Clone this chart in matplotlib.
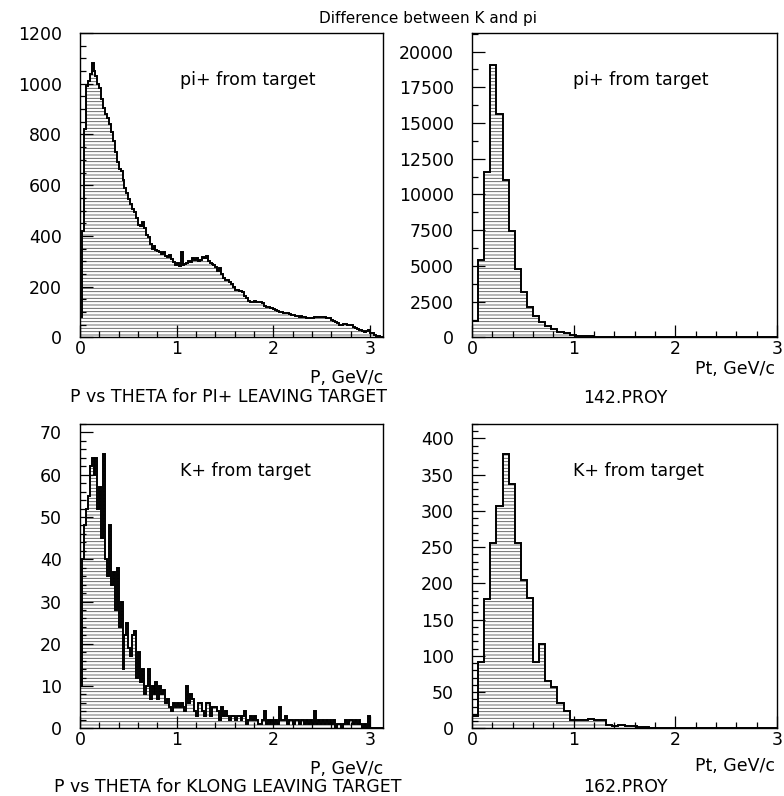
import numpy as np
import matplotlib
matplotlib.use("Agg")
import matplotlib.pyplot as plt
from matplotlib.ticker import MultipleLocator, FormatStrFormatter

# ---------------- data ----------------
# pi+ momentum P (GeV/c), bins of 0.02 starting at 0
pi_p_bin_width = 0.02
pi_p_counts = [
    80, 420, 820, 990, 1010, 1040, 1080, 1050, 1030, 1000,
    985, 940, 905, 880, 865, 840, 810, 775, 730, 690,
    665, 655, 620, 590, 570, 545, 525, 505, 495, 470,
    445, 440, 455, 430, 405, 395, 370, 350, 360, 345,
    340, 335, 330, 336, 322, 318, 326, 310, 298, 285,
    292, 280, 338, 285, 290, 292, 300, 298, 312, 305,
    312, 300, 305, 315, 312, 320, 300, 292, 290, 285,
    279, 262, 272, 250, 233, 228, 226, 220, 212, 200,
    187, 185, 184, 182, 180, 165, 154, 145, 141, 140,
    142, 141, 138, 141, 135, 125, 121, 118, 115, 116,
    110, 108, 104, 101, 102, 98, 95, 96, 92, 90,
    88, 86, 84, 82, 83, 80, 82, 78, 76, 75,
    78, 80, 82, 80, 79, 81, 79, 76, 77, 75,
    70, 66, 62, 56, 50, 49, 52, 52, 50, 48,
    49, 42, 37, 35, 31, 29, 26, 22, 24, 29,
    17, 16, 10, 7, 4, 2, 0,
]

# K+ momentum P (GeV/c), bins of 0.02 starting at 0
k_p_bin_width = 0.02
k_p_counts = [
    10, 40, 48, 52, 55, 62, 64, 60, 64, 52,
    57, 45, 65, 40, 36, 48, 34, 37, 28, 38,
    24, 30, 14, 22, 25, 19, 17, 22, 23, 12,
    18, 11, 14, 8, 10, 14, 7, 10, 8, 11,
    7, 10, 8, 9, 6, 7, 5, 4, 6, 5,
    6, 5, 6, 5, 4, 10, 6, 8, 7, 4,
    3, 6, 6, 4, 3, 6, 6, 3, 5, 5,
    5, 4, 2, 5, 3, 4, 3, 2, 3, 3,
    2, 3, 3, 2, 3, 4, 1, 2, 3, 2,
    3, 2, 1, 1, 2, 4, 1, 2, 1, 2,
    1, 2, 1, 5, 2, 2, 3, 1, 2, 2,
    1, 2, 2, 1, 2, 2, 1, 2, 1, 2,
    1, 4, 1, 2, 1, 2, 1, 2, 1, 2,
    1, 2, 0, 1, 1, 0, 1, 2, 1, 2,
    2, 1, 2, 1, 2, 1, 0, 1, 0, 3,
    0, 0, 0, 0, 0, 0, 0,
]

# pi+ transverse momentum Pt (GeV/c), bins of 0.06 starting at 0
pi_pt_bin_width = 0.06
pi_pt_counts = [
    1150, 5400, 11600, 19050, 15650, 11000, 7450, 4800, 3150, 2100,
    1500, 1080, 780, 560, 400, 280, 190, 130, 95, 70,
    50, 35, 25, 12, 0, 0, 0, 0, 0, 0,
    0, 0, 0, 0, 0, 0, 0, 0, 0, 0,
    0, 0, 0, 0, 0, 0, 0, 0, 0, 0,
]

# K+ transverse momentum Pt (GeV/c), bins of 0.06 starting at 0
k_pt_bin_width = 0.06
k_pt_counts = [
    17, 91, 178, 256, 307, 378, 337, 256, 204, 180,
    91, 116, 65, 57, 35, 24, 12, 11, 11, 13,
    11, 12, 5, 3, 4, 3, 3, 2, 2, 1,
    1, 1, 1, 0, 0, 0, 0, 0, 0, 0,
    0, 0, 0, 0, 0, 0, 0, 0, 0, 0,
]

x_tick_labels = ["0", "1", "2", "3"]
figure_title = "Difference between K and pi"

# ---------------- figure ----------------
W, H = 784, 796
plt.rcParams["font.family"] = ["DejaVu Sans"]
plt.rcParams["hatch.linewidth"] = 0.6
fig = plt.figure(figsize=(W / 100, H / 100), dpi=100)
fig.patch.set_facecolor("white")

FS = 12.5
HATCH_COLOR = "#555555"


def px_rect(left, top, right, bottom):
    return [left / W, 1 - bottom / H, (right - left) / W, (bottom - top) / H]


def ftext(x, y, s, size=FS, **kw):
    fig.text(x / W, 1 - y / H, s, fontsize=size, **kw)


def panel(rect, counts, width, xmax, ymax, ymaj, ymin, label):
    ax = fig.add_axes(rect)
    edges = np.arange(len(counts) + 1) * width
    ax.stairs(counts, edges, fill=True, facecolor="white",
              edgecolor=HATCH_COLOR, hatch="-----", linewidth=0)
    ax.stairs(counts, edges, fill=False, edgecolor="black", linewidth=1.4)
    ax.set_xlim(0, xmax)
    ax.set_ylim(0, ymax)
    ax.set_xticks([0, 1, 2, 3])
    ax.set_xticklabels(x_tick_labels)
    ax.xaxis.set_minor_locator(MultipleLocator(0.2))
    ax.yaxis.set_major_locator(MultipleLocator(ymaj))
    ax.yaxis.set_minor_locator(MultipleLocator(ymin))
    ax.yaxis.set_major_formatter(FormatStrFormatter("%d"))
    ax.tick_params(which="both", direction="in", top=False, right=False,
                   width=0.9, labelsize=FS)
    ax.tick_params(which="major", length=9)
    ax.tick_params(which="minor", length=4.5)
    ax.tick_params(axis="y", which="both", pad=13)
    ax.tick_params(axis="x", which="both", pad=1.8)
    for sp in ax.spines.values():
        sp.set_linewidth(1.0)
    ax.text(0.33, 0.828, label, transform=ax.transAxes, fontsize=FS,
            ha="left", va="baseline")
    return ax


ax_tl = panel(px_rect(80, 33, 383, 337.4), pi_p_counts, pi_p_bin_width,
              3.133, 1200, 200, 50, "pi+ from target")
ax_tr = panel(px_rect(472, 33, 777, 337.4), pi_pt_counts, pi_pt_bin_width,
              3.0, 21300, 2500, 1250, "pi+ from target")
ax_bl = panel(px_rect(80, 424, 383, 728.3), k_p_counts, k_p_bin_width,
              3.133, 72, 10, 2, "K+ from target")
ax_br = panel(px_rect(472, 424, 777, 728.3), k_pt_counts, k_pt_bin_width,
              3.0, 420, 50, 10, "K+ from target")

# texts
ftext(428, 23, figure_title, size=11, ha="center", va="baseline")

ftext(383, 383, "P, GeV/c", ha="right", va="baseline")
ftext(775, 374, "Pt, GeV/c", ha="right", va="baseline")
ftext(228, 402, "P vs THETA for PI+ LEAVING TARGET", ha="center", va="baseline")
ftext(625, 403, "142.PROY", ha="center", va="baseline")

ftext(383, 774, "P, GeV/c", ha="right", va="baseline")
ftext(775, 771, "Pt, GeV/c", ha="right", va="baseline")
ftext(228, 792, "P vs THETA for KLONG LEAVING TARGET", ha="center", va="baseline")
ftext(625, 792, "162.PROY", ha="center", va="baseline")

fig.savefig("out.png", dpi=100)
